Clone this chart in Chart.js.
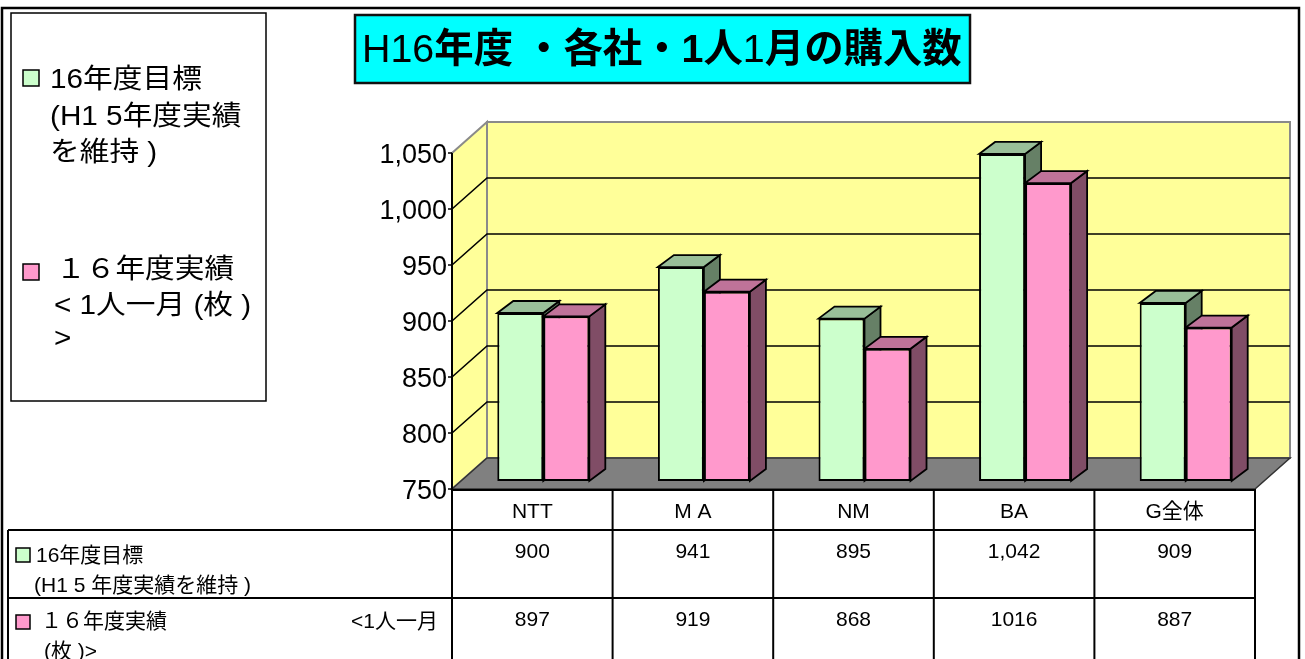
<!DOCTYPE html>
<html><head><meta charset="utf-8">
<script src="https://cdn.jsdelivr.net/npm/chart.js@4/dist/chart.umd.min.js"></script>
<style>html,body{margin:0;padding:0;background:#fff;overflow:hidden}canvas{display:block}</style>
</head><body>
<canvas id="c" width="1305" height="659"></canvas>
<script>
// ---- data ----
const categories = ['NTT', 'M A', 'NM', 'BA', 'G全体'];
const targetValues = [900, 941, 895, 1042, 909];
const actualValues = [897, 919, 868, 1016, 887];
const yMin = 750, yMax = 1050, yStep = 50;
const seriesNames = ['16年度目標(H1 5年度実績を維持 )', '１６年度実績<1人一月 (枚 )>'];
const titleRuns = [['H16', false], ['年度 ・各社・1人', true], ['1', false], ['月の購入数', true]];
const legendLines = [['16年度目標', '(H1 5年度実績', 'を維持 )'], ['１６年度実績', '< 1人一月 (枚 )', '>']];
const tableLabelLines = [['16年度目標', '(H1 5 年度実績を維持 )'], ['１６年度実績', '<1人一月', '(枚 )>']];

// ---- styles ----
const frontColors = ['#CCFFCC', '#FF99CC'];
const topColors = ['#99BF99', '#BF7399'];
const sideColors = ['#668066', '#804D66'];
const SH = { front: { dx: -11, dy: 8 }, back: { dx: 24, dy: -23 }, bar: { dx: 16, dy: -12 } };
const FONT_LATIN = '"Liberation Sans", "Noto Sans CJK JP", sans-serif';

function poly(ctx, pts, fill, stroke, lw) {
  ctx.beginPath(); ctx.moveTo(pts[0][0], pts[0][1]);
  for (let i = 1; i < pts.length; i++) ctx.lineTo(pts[i][0], pts[i][1]);
  ctx.closePath();
  if (fill) { ctx.fillStyle = fill; ctx.fill(); }
  if (stroke) { ctx.strokeStyle = stroke; ctx.lineWidth = lw || 1; ctx.lineJoin = 'miter'; ctx.stroke(); }
}
function line(ctx, x1, y1, x2, y2, c, lw) {
  ctx.beginPath(); ctx.moveTo(x1, y1); ctx.lineTo(x2, y2);
  ctx.strokeStyle = c; ctx.lineWidth = lw; ctx.stroke();
}
function sq(ctx, x, y, s, fill) {
  ctx.fillStyle = fill; ctx.fillRect(x, y, s, s);
  ctx.strokeStyle = '#000'; ctx.lineWidth = 1.5; ctx.strokeRect(x, y, s, s);
  ctx.fillStyle = '#000';
}

const scene = {
  id: 'scene3d',
  beforeDatasetsDraw(chart) {
    const { ctx, chartArea: a, scales: { x, y } } = chart;
    const f = SH.front, b = SH.back, d = SH.bar;
    const yb = y.getPixelForValue(yMin), yt = y.getPixelForValue(yMax);
    const fL = a.left + f.dx, fR = a.right + f.dx, fB = yb + f.dy, fT = yt + f.dy;
    const bL = a.left + b.dx, bR = a.right + b.dx, bB = yb + b.dy, bT = yt + b.dy;
    ctx.save();
    // walls
    poly(ctx, [[bL, bT], [bR, bT], [bR, bB], [bL, bB]], '#FFFF99', '#8a8a8a', 2);
    poly(ctx, [[fL, fT], [bL, bT], [bL, bB], [fL, fB]], '#FFFF99', '#8a8a8a', 2);
    // gridlines
    y.ticks.forEach(t => {
      const py = y.getPixelForValue(t.value);
      if (t.value > yMin && t.value < yMax) {
        ctx.beginPath(); ctx.moveTo(fL, py + f.dy); ctx.lineTo(bL, py + b.dy); ctx.lineTo(bR, py + b.dy);
        ctx.strokeStyle = '#000'; ctx.lineWidth = 1.6; ctx.stroke();
      }
    });
    // floor
    poly(ctx, [[fL, fB], [fR, fB], [bR, bB], [bL, bB]], '#808080', '#333', 1.5);
    // front value axis
    line(ctx, fL, fT, fL, fB, '#000', 2);
    ctx.font = '27px ' + FONT_LATIN; ctx.fillStyle = '#000';
    ctx.textAlign = 'right'; ctx.textBaseline = 'middle';
    y.ticks.forEach(t => {
      const py = y.getPixelForValue(t.value) + f.dy;
      line(ctx, fL - 4, py, fL, py, '#000', 1.5);
      ctx.fillText(t.value.toLocaleString('en-US'), fL - 5, py + 3);
    });
    // 3D bar sides and tops
    const metas = chart.data.datasets.map((ds, i) => chart.getDatasetMeta(i));
    for (let i = 0; i < categories.length; i++) {
      metas.forEach((m, di) => {
        const el = m.data[i];
        const l = el.x - el.width / 2, r = el.x + el.width / 2, top = el.y, bot = Math.min(el.base, yb);
        poly(ctx, [[r, top], [r + d.dx, top + d.dy], [r + d.dx, bot + d.dy], [r, bot]], sideColors[di], '#000', 1.8);
        poly(ctx, [[l, top], [l + d.dx, top + d.dy], [r + d.dx, top + d.dy], [r, top]], topColors[di], '#000', 1.8);
      });
    }
    ctx.restore();
  },
  afterDraw(chart) {
    const { ctx, chartArea: a, scales: { x, y } } = chart;
    const f = SH.front;
    const fB = y.getPixelForValue(yMin) + f.dy;
    ctx.save();
    // ---- title ----
    ctx.fillStyle = '#00FFFF'; ctx.fillRect(355, 15, 615, 68);
    ctx.strokeStyle = '#111'; ctx.lineWidth = 2.5; ctx.strokeRect(355, 15, 615, 68);
    let fs = 40;
    const fontOf = (bold, s) => (bold ? 'bold ' : '') + s + 'px ' + FONT_LATIN;
    let w = 0;
    titleRuns.forEach(([t, bo]) => { ctx.font = fontOf(bo, fs); w += ctx.measureText(t).width; });
    if (w > 600) { fs = fs * 600 / w; w = 600; }
    let tx = 662 - w / 2;
    ctx.textAlign = 'left'; ctx.textBaseline = 'middle'; ctx.fillStyle = '#000';
    titleRuns.forEach(([t, bo]) => { ctx.font = fontOf(bo, fs); ctx.fillText(t, tx, 51); tx += ctx.measureText(t).width; });

    // ---- legend ----
    ctx.fillStyle = '#fff'; ctx.fillRect(11, 13, 255, 388);
    ctx.strokeStyle = '#000'; ctx.lineWidth = 1.5; ctx.strokeRect(11, 13, 255, 388);
    sq(ctx, 23, 70, 16, frontColors[0]);
    sq(ctx, 23, 264, 16, frontColors[1]);
    ctx.font = '27px ' + FONT_LATIN; ctx.fillStyle = '#000'; ctx.textBaseline = 'middle'; ctx.textAlign = 'left';
    const lg0 = [81, 118, 154], lg1 = [271, 307, 340];
    const drawScaled = (t, px, py) => { ctx.save(); ctx.translate(px, py); ctx.scale(1.1, 1); ctx.fillText(t, 0, 0); ctx.restore(); };
    legendLines[0].forEach((t, i) => drawScaled(t, 50, lg0[i]));
    legendLines[1].forEach((t, i) => drawScaled(t, i === 0 ? 56 : 54, lg1[i]));

    // ---- data table ----
    const step = x.getPixelForValue(1) - x.getPixelForValue(0);
    const cx = i => x.getPixelForValue(i) + f.dx;
    const edges = [];
    for (let i = 0; i <= categories.length; i++) edges.push(cx(0) - step / 2 + i * step);
    const tRight = edges[edges.length - 1];
    line(ctx, edges[0], fB + 1, tRight, fB + 1, '#000', 2);
    line(ctx, 8, 530, tRight, 530, '#000', 2);
    line(ctx, 8, 598, tRight, 598, '#000', 2);
    line(ctx, 8, 530, 8, 670, '#000', 2);
    edges.forEach(e => line(ctx, e, fB, e, 670, '#000', 2));
    ctx.font = '21px ' + FONT_LATIN; ctx.textAlign = 'center'; ctx.fillStyle = '#000';
    categories.forEach((c, i) => ctx.fillText(c, cx(i), 512));
    targetValues.forEach((v, i) => ctx.fillText(v.toLocaleString('en-US'), cx(i), 552));
    actualValues.forEach((v, i) => ctx.fillText(String(v), cx(i), 620));
    // row labels
    sq(ctx, 16, 548, 14, frontColors[0]);
    sq(ctx, 16, 615, 14, frontColors[1]);
    ctx.font = '21px ' + FONT_LATIN; ctx.textAlign = 'left'; ctx.fillStyle = '#000';
    ctx.fillText(tableLabelLines[0][0], 36, 556);
    ctx.fillText(tableLabelLines[0][1], 34, 586);
    ctx.fillText(tableLabelLines[1][0], 41, 622);
    ctx.fillText(tableLabelLines[1][2], 44, 652);
    ctx.textAlign = 'right';
    ctx.fillText(tableLabelLines[1][1], 438, 622);

    // ---- outer frame ----
    ctx.strokeStyle = '#000'; ctx.lineWidth = 2.5;
    ctx.strokeRect(2, 8, 1297, 680);
    ctx.restore();
  }
};

new Chart(document.getElementById('c'), {
  type: 'bar',
  data: {
    labels: categories,
    datasets: [
      { label: seriesNames[0], data: targetValues, backgroundColor: frontColors[0] },
      { label: seriesNames[1], data: actualValues, backgroundColor: frontColors[1] }
    ]
  },
  options: {
    responsive: false, animation: false, devicePixelRatio: 1,
    layout: { padding: { left: 463, right: 39, top: 145, bottom: 178 } },
    datasets: { bar: { base: yMin, clip: false, borderColor: '#000', borderWidth: 2, borderSkipped: false, categoryPercentage: 0.573, barPercentage: 1.0, inflateAmount: 0 } },
    scales: {
      x: { display: false, offset: true },
      y: { display: false, min: yMin, max: yMax, ticks: { stepSize: yStep } }
    },
    plugins: { legend: { display: false }, title: { display: false }, tooltip: { enabled: false } }
  },
  plugins: [scene]
});
</script>
</body></html>
